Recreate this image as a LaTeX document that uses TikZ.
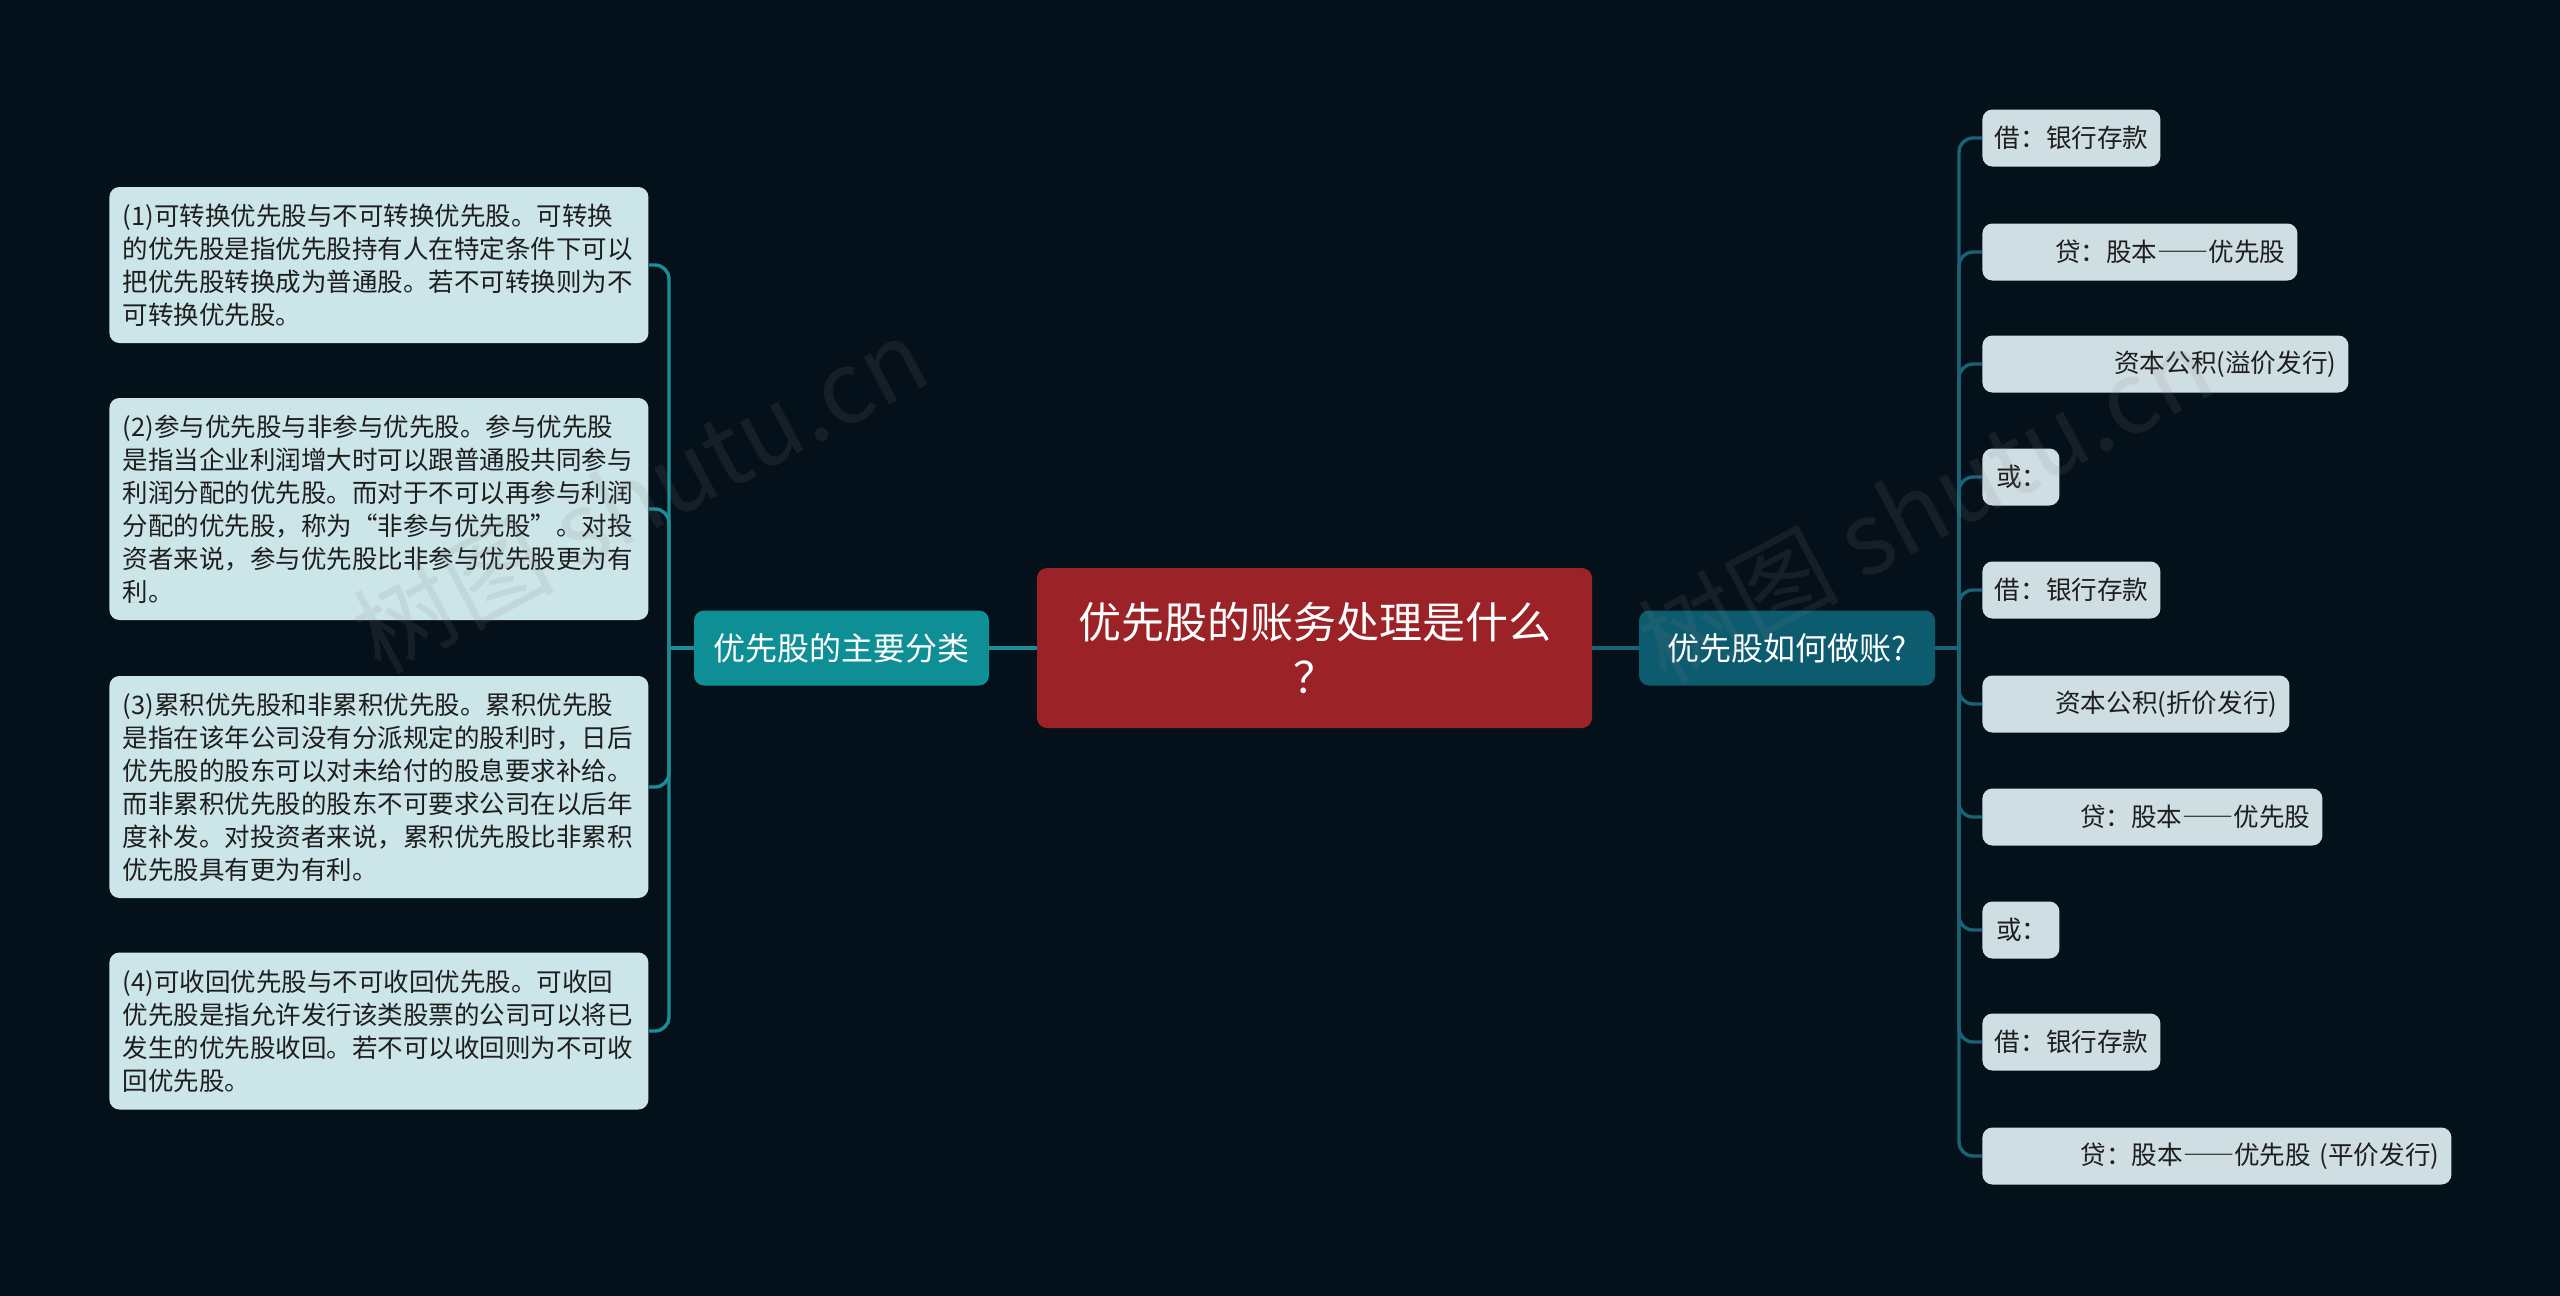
\documentclass[tikz,border=0pt]{standalone}
\usepackage{fontspec}
\setmainfont{Noto Sans CJK SC}
\newcommand{\fwdash}{{\addfontfeature{RawFeature=+fwid}——}}
\definecolor{bg}{HTML}{04111A}
\definecolor{rootc}{HTML}{9B2226}
\definecolor{lbranch}{HTML}{0E8F95}
\definecolor{rbranch}{HTML}{0C5B6E}
\definecolor{lleaf}{HTML}{CCE5E8}
\definecolor{rleaf}{HTML}{CFDEE3}
\definecolor{lline}{HTML}{1A8E94}
\definecolor{rline}{HTML}{1A6377}
\definecolor{txt}{HTML}{1E1E1E}
\begin{document}
\begin{tikzpicture}[x=0.5pt,y=-0.5pt,
  rootbox/.style={fill=rootc, rounded corners=5pt, text=white, align=center,
    font=\fontsize{21.5pt}{27.5pt}\selectfont, minimum width=277.5pt, minimum height=80pt, inner sep=0pt},
  lbr/.style={fill=lbranch, rounded corners=5pt, text=white,
    font=\fontsize{16pt}{20pt}\selectfont, minimum width=147.5pt, minimum height=37.5pt, inner sep=0pt},
  rbr/.style={fill=rbranch, rounded corners=5pt, text=white,
    font=\fontsize{16pt}{20pt}\selectfont, minimum width=148pt, minimum height=37.5pt, inner sep=0pt},
  lbox/.style={fill=lleaf, rounded corners=5pt, text=txt, anchor=west,
    font=\fontsize{12.75pt}{16.5pt}\selectfont, text width=256pt, align=left,
    inner xsep=6.75pt, inner ysep=0pt},
  leaf/.style={fill=rleaf, rounded corners=5pt, text=txt, anchor=west,
    font=\fontsize{12.8pt}{16pt}\selectfont, align=right, minimum height=28.5pt,
    inner xsep=6pt, inner ysep=0pt},
  lconn/.style={draw=lline, line width=1.7pt},
  rconn/.style={draw=rline, line width=1.7pt},
  wmark/.style={text=gray, opacity=0.13, font=\fontsize{50pt}{50pt}\selectfont, rotate=28}
]
\useasboundingbox (0,0) rectangle (2560,1296);
\fill[bg] (0,0) rectangle (2560,1296);

% root and branches
\node[rootbox] (root) at (1314.5,648) {优先股的账务处理是什么\\？};
\node[lbr] (lb) at (841.5,648) {优先股的主要分类};
\node[rbr] (rb) at (1787,648) {优先股如何做账?};

% left boxes
\node[lbox, minimum height=78pt] (l1) at (109,265) {(1)可转换优先股与不可转换优先股。可转换\\的优先股是指优先股持有人在特定条件下可以\\把优先股转换成为普通股。若不可转换则为不\\可转换优先股。};
\node[lbox, minimum height=111pt] (l2) at (109,509) {(2)参与优先股与非参与优先股。参与优先股\\是指当企业利润增大时可以跟普通股共同参与\\利润分配的优先股。而对于不可以再参与利润\\分配的优先股，称为“非参与优先股”。对投\\资者来说，参与优先股比非参与优先股更为有\\利。};
\node[lbox, minimum height=111pt] (l3) at (109,787) {(3)累积优先股和非累积优先股。累积优先股\\是指在该年公司没有分派规定的股利时，日后\\优先股的股东可以对未给付的股息要求补给。\\而非累积优先股的股东不可要求公司在以后年\\度补发。对投资者来说，累积优先股比非累积\\优先股具有更为有利。};
\node[lbox, minimum height=78.5pt] (l4) at (109,1031) {(4)可收回优先股与不可收回优先股。可收回\\优先股是指允许发行该类股票的公司可以将已\\发生的优先股收回。若不可以收回则为不可收\\回优先股。};

% right leaves
\node[leaf, text width=77pt] (r1) at (1982,138) {借：银行存款};
\node[leaf, text width=145.5pt] (r2) at (1982,252) {贷：股本\fwdash 优先股};
\node[leaf, text width=171pt] (r3) at (1982,364) {资本公积(溢价发行)};
\node[leaf, text width=26.5pt] (r4) at (1982,477) {或：};
\node[leaf, text width=77pt] (r5) at (1982,590) {借：银行存款};
\node[leaf, text width=141.5pt] (r6) at (1982,704) {资本公积(折价发行)};
\node[leaf, text width=158pt] (r7) at (1982,817) {贷：股本\fwdash 优先股};
\node[leaf, text width=26.5pt] (r8) at (1982,930) {或：};
\node[leaf, text width=77pt] (r9) at (1982,1042) {借：银行存款};
\node[leaf, text width=222.5pt] (r10) at (1982,1156) {贷：股本\fwdash 优先股 (平价发行)};

% connectors
\coordinate (jl) at (669,648);
\coordinate (jr) at (1959,648);
\draw[lconn] (root.west) -- (lb.east);
\draw[rconn] (root.east) -- (rb.west);
\draw[lconn] (lb.west) -- (jl);
\draw[rconn] (rb.east) -- (jr);
\foreach \n in {l1,l2,l3,l4}
  \draw[lconn, rounded corners=7pt] (jl) |- (\n.east);
\foreach \n in {r1,r2,r3,r4,r5,r6,r7,r8,r9,r10}
  \draw[rconn, rounded corners=7pt] (jr) |- (\n.west);

% watermarks
\node[wmark] (w1) at (640,495) {树图 shutu.cn};
\node[wmark] (w2) at (1925,505) {树图 shutu.cn};
\end{tikzpicture}
\end{document}
